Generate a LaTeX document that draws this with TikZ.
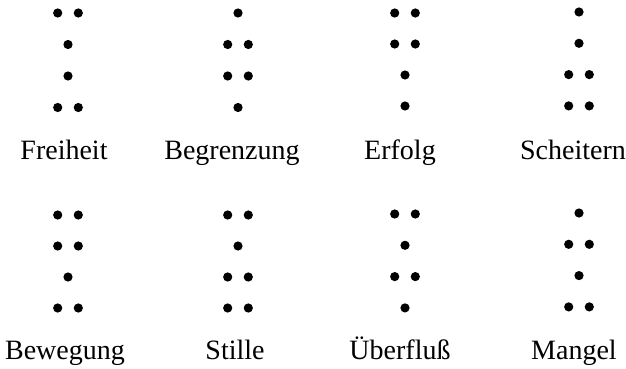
\documentclass[tikz,border=0pt]{standalone}
\usepackage{fontspec}
\setmainfont{Liberation Serif}
\begin{document}
\begin{tikzpicture}[x=1pt,y=-1pt,
  geodot/.style={fill=black},
  figname/.style={font=\fontsize{28}{32}\selectfont, anchor=base, inner sep=0pt}]
\useasboundingbox (0,0) rectangle (626,369);
% Each figure: dot column centre, top row, row pitch, pattern (1 = one dot, 2 = two dots),
% label centre, label baseline, label text, node name
\foreach \cx/\ty/\dy/\pat/\lx/\by/\txt/\nm in {
    68/13/31.5/{2,1,1,2}/64/159/Freiheit/freiheit,
    238/13/31.5/{1,2,2,1}/232/159/Begrenzung/begrenzung,
    405/13/31/{2,2,1,1}/400/159/Erfolg/erfolg,
    579/12/31.3/{1,1,2,2}/573/159/Scheitern/scheitern,
    68/215/31/{2,2,1,2}/65/359/Bewegung/bewegung,
    238/215/31/{2,1,2,2}/235/359/Stille/stille,
    405/214/31.3/{2,1,2,1}/400/359/Überfluß/ueberfluss,
    579/213/31.3/{1,2,1,2}/574/359/Mangel/mangel}{
  \foreach \n [count=\i from 0] in \pat {
    \pgfmathsetmacro{\yy}{\ty+\dy*\i}
    \ifnum\n=1
      \fill[geodot] (\cx,\yy) circle (4.6);
    \else
      \fill[geodot] (\cx-10.3,\yy) circle (4.6);
      \fill[geodot] (\cx+10.3,\yy) circle (4.6);
    \fi
  }
  \node[figname] (\nm) at (\lx,\by) {\txt};
}
\end{tikzpicture}
\end{document}
